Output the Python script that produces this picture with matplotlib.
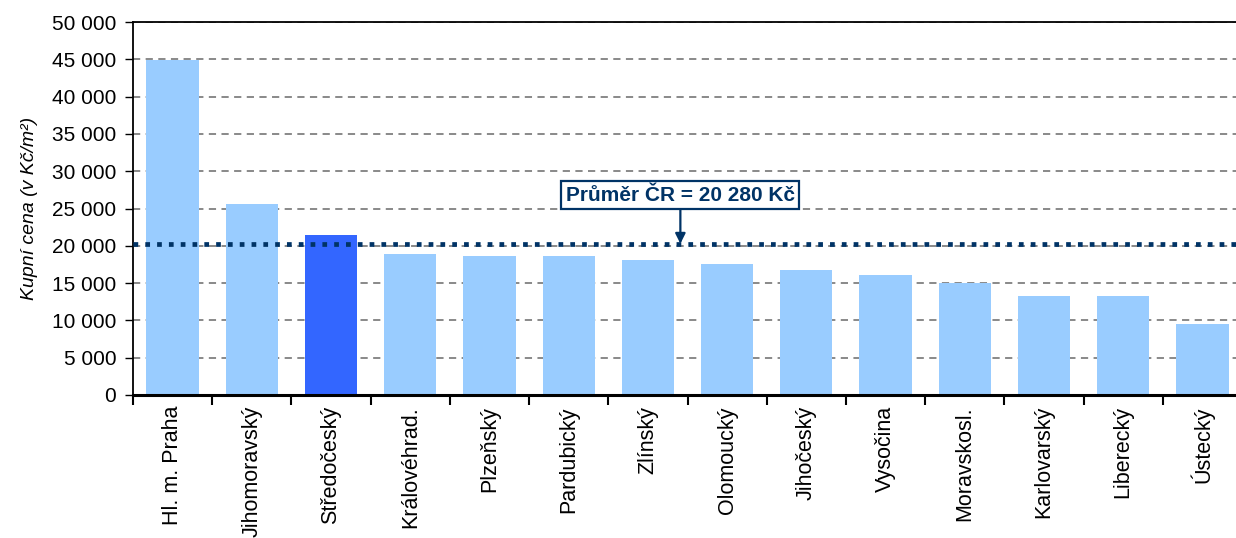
import numpy as np
import matplotlib.pyplot as plt
from matplotlib.ticker import FuncFormatter

plt.rcParams['font.family'] = ['Liberation Sans', 'DejaVu Sans']

regions = [
    'Hl. m. Praha', 'Jihomoravský', 'Středočeský', 'Královéhrad.', 'Plzeňský',
    'Pardubický', 'Zlínský', 'Olomoucký', 'Jihočeský', 'Vysočina',
    'Moravskosl.', 'Karlovarský', 'Liberecký', 'Ústecký',
]
prices = [44900, 25600, 21450, 18900, 18650, 18650, 18100, 17600, 16800, 16100,
          15000, 13300, 13300, 9550]
highlight = 'Středočeský'
average = 20280

LIGHT = '#99ccff'
DARK = '#3366ff'
NAVY = '#003366'

fig = plt.figure(figsize=(12.36, 5.38), dpi=100)
ax = fig.add_axes([133 / 1236, 143 / 538, (1242 - 133) / 1236, 373 / 538])

x = np.arange(len(regions))
colors = [DARK if r == highlight else LIGHT for r in regions]
ax.bar(x, prices, width=0.66, color=colors, zorder=2)

# average line
ax.axhline(average, color=NAVY, linewidth=3.4, linestyle=(0, (1, 1.5)),
           dash_capstyle='butt', zorder=3)
ax.annotate('Průměr ČR = 20 280 Kč', xy=(6.41, average), xytext=(6.41, 26800),
            ha='center', va='center', fontsize=15, fontweight='bold', color=NAVY,
            bbox=dict(boxstyle='square,pad=0.22', fc='white', ec=NAVY, lw=1.6),
            arrowprops=dict(arrowstyle='-|>', color=NAVY, lw=1.6, mutation_scale=15,
                            shrinkA=0, shrinkB=0),
            zorder=4)

ax.set_xlim(-0.5, len(regions) - 0.5)
ax.set_ylim(0, 50000)
ax.set_yticks(np.arange(0, 50001, 5000))
ax.yaxis.set_major_formatter(FuncFormatter(
    lambda v, _: '{:,}'.format(int(v)).replace(',', ' ')))
ax.tick_params(axis='y', labelsize=15, length=6, width=1, pad=6)

ax.set_xticks(np.arange(-0.5, len(regions), 1.0))
ax.set_xticklabels([])
ax.set_xticks(x, minor=True)
ax.set_xticklabels(regions, minor=True, rotation=90, fontsize=15.5)
ax.tick_params(axis='x', which='major', length=7, width=1.5, direction='out')
ax.tick_params(axis='x', which='minor', length=0, pad=8)

ax.grid(axis='y', color='#808080', linestyle=(0, (4, 3)), linewidth=1.3, zorder=0)
ax.set_axisbelow(True)

ax.spines['right'].set_visible(False)
ax.spines['bottom'].set_linewidth(2.2)
ax.spines['left'].set_linewidth(1.3)
ax.spines['top'].set_linewidth(1.3)

ax.set_ylabel('Kupní cena (v Kč/m²)', fontsize=14, style='italic', labelpad=10)

plt.savefig('out.png', dpi=100)
